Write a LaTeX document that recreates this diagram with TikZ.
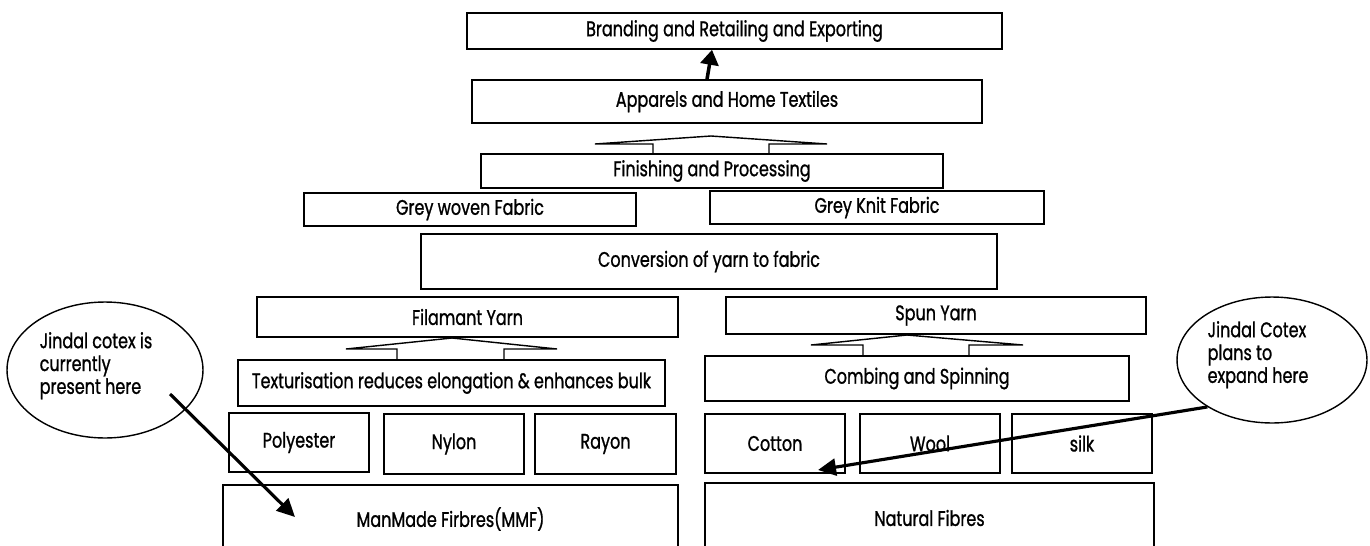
\documentclass[tikz,border=0pt]{standalone}
\usepackage{fontspec}
\setmainfont{Poppins}[FakeStretch=0.76,FakeBold=1]
\usetikzlibrary{shapes.geometric,arrows.meta}

\begin{document}
\begin{tikzpicture}[x=0.02cm,y=-0.02cm,
  every node/.style={font=\fontsize{12}{13}\selectfont},
  box/.style={draw,line width=0.9pt,inner sep=0pt},
  note/.style={draw,ellipse,line width=0.8pt,inner sep=0pt,align=left},
  pointer/.style={line width=1.8pt,-{Triangle[length=0.36cm,width=0.34cm]}}]
  \useasboundingbox (0,0) rectangle (1370,545);

  \node[box,minimum width=10.7cm,minimum height=0.72cm] (brand) at (734.5,31) {Branding and Retailing and Exporting};
  \node[box,minimum width=10.2cm,minimum height=0.86cm] (apparel) at (727,101.5) {Apparels and Home Textiles};
  \node[box,minimum width=9.24cm,minimum height=0.68cm] (finish) at (712,171) {Finishing and Processing};
  \node[box,minimum width=6.64cm,minimum height=0.66cm] (woven) at (470,209.5) {Grey woven Fabric};
  \node[box,minimum width=6.68cm,minimum height=0.66cm] (knit) at (877,207.5) {Grey Knit Fabric};
  \node[box,minimum width=11.52cm,minimum height=1.1cm] (convert) at (709,261.5) {Conversion of yarn to fabric};

  \node[box,minimum width=8.42cm,minimum height=0.8cm] (filament) at (467.5,317) {Filamant Yarn};
  \node[box,minimum width=8.4cm,minimum height=0.74cm] (spun) at (936,315.5) {Spun Yarn};
  \node[box,minimum width=8.54cm,minimum height=0.92cm] (textur) at (451.5,383) {Texturisation reduces elongation \& enhances bulk};
  \node[box,minimum width=8.48cm,minimum height=0.9cm] (combing) at (917,378.5) {Combing and Spinning};

  \node[box,minimum width=2.8cm,minimum height=1.18cm] (poly) at (299,442.5) {Polyester};
  \node[box,minimum width=2.8cm,minimum height=1.2cm] (nylon) at (454,444) {Nylon};
  \node[box,minimum width=2.82cm,minimum height=1.2cm] (rayon) at (605.5,444) {Rayon};
  \node[box,minimum width=2.8cm,minimum height=1.18cm] (cotton) at (775,443.5) {Cotton};
  \node[box,minimum width=2.8cm,minimum height=1.18cm] (wool) at (930,443.5) {Wool};
  \node[box,minimum width=2.8cm,minimum height=1.18cm] (silk) at (1082,443.5) {silk};
  \node[box,minimum width=9.1cm,minimum height=1.36cm] (mmf) at (450.5,519) {ManMade Firbres(MMF)};
  \node[box,minimum width=8.98cm,minimum height=1.4cm] (natural) at (929.5,518) {Natural Fibres};

  % block arrows between the stages
  \draw[line width=0.8pt] (653,153) -- (653,144) -- (595,144) -- (711,136) -- (827,144) -- (769,144) -- (769,153);
  \draw[line width=0.8pt] (397,360) -- (397,349) -- (346,349) -- (452,338) -- (557,349) -- (504,349) -- (504,360);
  \draw[line width=0.8pt] (863,356) -- (863,345) -- (811,345) -- (907,335) -- (1023,345) -- (969,345) -- (969,356);

  \draw[line width=2pt,-{Triangle[length=0.3cm,width=0.36cm]}] ([xshift=-0.4cm]apparel.north) -- ([xshift=-0.45cm]brand.south);

  % call-outs
  \node[note,minimum width=3.92cm,minimum height=2.72cm] (noteL) at (105,370) {Jindal cotex is\hspace*{0.36cm}\\currently\\present here\rule[-0.28cm]{0pt}{0pt}};
  \node[note,minimum width=3.8cm,minimum height=2.52cm] (noteR) at (1272,360) {Jindal Cotex\hspace*{0.56cm}\\plans to\\expand here\hspace*{0.56cm}\rule[-0.32cm]{0pt}{0pt}};
  \coordinate (hereL) at (295,517);
  \coordinate (hereR) at (818,470);

  \draw[pointer] ([shift={(65,24)}]noteL.center) -- (hereL);
  \draw[pointer] (noteR.216) -- (hereR);
\end{tikzpicture}
\end{document}
